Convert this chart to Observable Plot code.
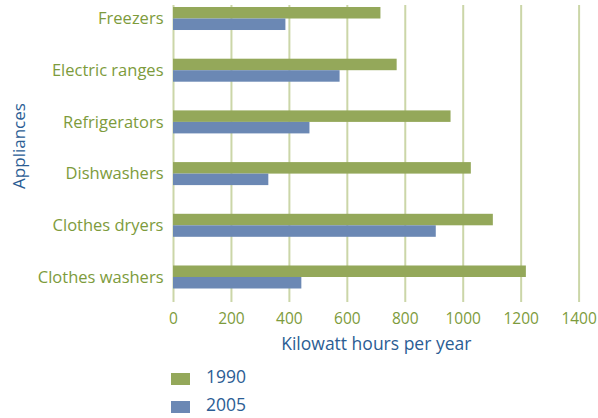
<!DOCTYPE html>
<html>
<head>
<meta charset="utf-8">
<script src="https://cdn.jsdelivr.net/npm/d3@7"></script>
<script src="https://cdn.jsdelivr.net/npm/@observablehq/plot@0.6"></script>
<style>
  html, body { margin: 0; padding: 0; background: #fff; }
  body { width: 598px; height: 418px; position: relative; overflow: hidden; font-family: "Open Sans", sans-serif; }
  #legend { position: absolute; left: 171px; top: 370px; }
  .item { position: relative; height: 28px; }
  .sw { position: absolute; left: 0; top: 3px; width: 19px; height: 11.5px; }
  .lb { position: absolute; left: 35px; top: -6px; font-size: 17.5px; color: #2b5d94; white-space: nowrap; }
</style>
</head>
<body>
<div id="chart"></div>
<div id="legend"></div>
<script>
const categories = ["Freezers", "Electric ranges", "Refrigerators", "Dishwashers", "Clothes dryers", "Clothes washers"];
const years = ["1990", "2005"];
const values1990 = [716, 772, 958, 1028, 1104, 1218];
const values2005 = [388, 575, 471, 329, 907, 443];
const xTicks = [0, 200, 400, 600, 800, 1000, 1200, 1400];
const colors = ["#94a85a", "#6b88b4"];

const green = "#7d9b3c";
const blue = "#2b5d94";

const rows = categories.map((c, i) => ({appliance: c, v1990: values1990[i], v2005: values2005[i]}));

const plot = Plot.plot({
  width: 598,
  height: 360,
  marginTop: 5,
  marginBottom: 58,
  marginLeft: 173,
  marginRight: 19.4,
  style: {fontFamily: "'Open Sans', sans-serif", background: "#fff"},
  x: {domain: [0, 1400], ticks: xTicks},
  y: {domain: categories, paddingInner: 0.555, paddingOuter: 0, insetTop: 2, insetBottom: 13.5, round: false},
  marks: [
    Plot.gridX(xTicks, {stroke: "#cbd6a8", strokeOpacity: 1, strokeWidth: 2}),
    Plot.barX(rows, {x: "v1990", y: "appliance", fill: colors[0], insetBottom: 11.5}),
    Plot.barX(rows, {x: "v2005", y: "appliance", fill: colors[1], insetTop: 11.5}),
    Plot.axisX(xTicks, {tickSize: 0, tickPadding: 10, fontSize: 15.5, color: green, label: null, tickFormat: d => String(d)}),
    Plot.axisY({tickSize: 0, tickPadding: 10, fontSize: 16.5, color: green, label: null}),
    Plot.text(["Kilowatt hours per year"], {frameAnchor: "bottom", dy: 42, lineAnchor: "middle", textAnchor: "middle", fontSize: 17.5, fill: blue}),
    Plot.text(["Appliances"], {frameAnchor: "left", rotate: -90, dx: -154, dy: -8, lineAnchor: "middle", textAnchor: "middle", fontSize: 17, fill: blue})
  ]
});
document.getElementById("chart").appendChild(plot);

const legend = document.getElementById("legend");
years.forEach((y, i) => {
  const item = document.createElement("div");
  item.className = "item";
  const sw = document.createElement("div");
  sw.className = "sw";
  sw.style.background = colors[i];
  const lb = document.createElement("div");
  lb.className = "lb";
  lb.textContent = y;
  item.appendChild(sw);
  item.appendChild(lb);
  legend.appendChild(item);
});
</script>
</body>
</html>
